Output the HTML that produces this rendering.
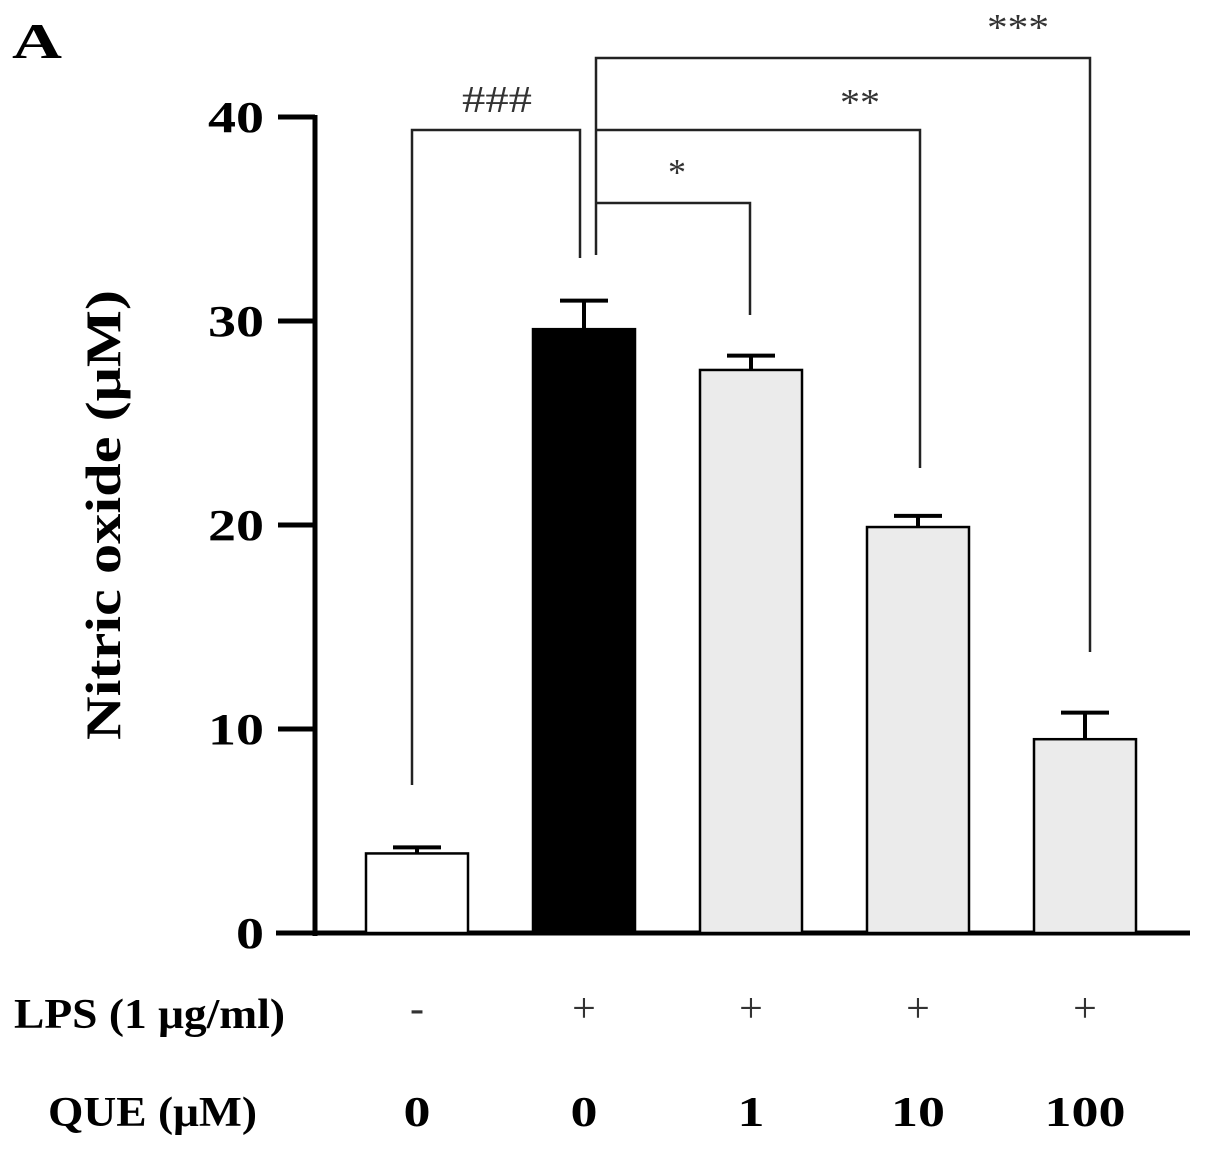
<!DOCTYPE html>
<html><head><meta charset="utf-8"><style>
html,body{margin:0;padding:0;background:#fff;}
svg{display:block;font-family:"Liberation Serif",serif;}
</style></head><body>
<svg id="chart" width="1205" height="1150" viewBox="0 0 1205 1150" xmlns="http://www.w3.org/2000/svg">
<text x="12" y="58" font-size="50" font-weight="bold" textLength="50" lengthAdjust="spacingAndGlyphs">A</text>
<text transform="translate(120,515) rotate(-90)" text-anchor="middle" font-size="50" font-weight="bold" textLength="450" lengthAdjust="spacingAndGlyphs">Nitric oxide (μM)</text>
<g id="plot"></g>
</svg>
<script>
const categories = ["ctrl","LPS","QUE1","QUE10","QUE100"];
const values = [3.9, 29.6, 27.6, 19.9, 9.5];
const errors = [0.3, 1.4, 0.7, 0.55, 1.3];
const fills = ["#ffffff","#000000","#ebebeb","#ebebeb","#ebebeb"];
const yTicks = [0,10,20,30,40];
const lpsLabels = ["-","+","+","+","+"];
const queLabels = ["0","0","1","10","100"];
const sigLabels = ["###","*","**","***"];

const NS="http://www.w3.org/2000/svg";
const g=document.getElementById('plot');
const y0=933, pxPer=20.4;
const yScale=v=>y0-v*pxPer;
const xCenter=i=>417+i*167;
const barW=102;
function mk(tag,attrs,text){const e=document.createElementNS(NS,tag);for(const k in attrs)e.setAttribute(k,attrs[k]);if(text!==undefined)e.textContent=text;g.appendChild(e);return e;}

let e=mk('line',{x1:315,y1:yScale(40)-2,x2:315,y2:y0+3,stroke:'#000','stroke-width':5});


e=mk('line',{x1:276,y1:y0,x2:1190,y2:y0,stroke:'#000','stroke-width':5});


yTicks.forEach(t=>{
  let l=mk('line',{x1:278,y1:yScale(t),x2:315,y2:yScale(t),stroke:'#000','stroke-width':5});
  
  
  const s=String(t);
  let tx=mk('text',{x:264,y:yScale(t)+15,'text-anchor':'end','font-size':44,'font-weight':'bold',textLength:s.length*28,lengthAdjust:'spacingAndGlyphs'},s);
  
  
});
values.forEach((v,i)=>{
  const cx=xCenter(i);
  const top=yScale(v+errors[i]);
  let el=mk('line',{x1:cx,y1:yScale(v),x2:cx,y2:top,stroke:'#000','stroke-width':4});
  
  
  el=mk('line',{x1:cx-24,y1:top,x2:cx+24,y2:top,stroke:'#000','stroke-width':4});
  
  
  el=mk('rect',{x:cx-barW/2,y:yScale(v),width:barW,height:y0-yScale(v),fill:fills[i],stroke:'#000','stroke-width':2.5});
  
  
  el=mk('text',{x:cx,y:1022,'text-anchor':'middle','font-size':42,fill:'#333'},lpsLabels[i]);
  
  
  const q=queLabels[i];
  el=mk('text',{x:cx,y:1126,'text-anchor':'middle','font-size':42,'font-weight':'bold',textLength:q.length*27,lengthAdjust:'spacingAndGlyphs'},q);
  
  
});
e=mk('text',{x:14,y:1028,'font-size':42,'font-weight':'bold',textLength:271,lengthAdjust:'spacingAndGlyphs'},"LPS (1 μg/ml)");


e=mk('text',{x:48,y:1126,'font-size':42,'font-weight':'bold',textLength:209,lengthAdjust:'spacingAndGlyphs'},"QUE (μM)");


const brackets=[
  {pts:[[412,785],[412,130],[580,130],[580,258]],lx:497,ly:112,w:70,t:sigLabels[0]},
  {pts:[[596,203],[750,203],[750,315]],lx:677,ly:185,w:18,t:sigLabels[1]},
  {pts:[[596,130],[920,130],[920,468]],lx:860,ly:115,w:40,t:sigLabels[2]},
  {pts:[[596,255],[596,58],[1090,58],[1090,652]],lx:1018,ly:40,w:62,t:sigLabels[3]}
];
brackets.forEach((b,i)=>{
  let p=mk('polyline',{points:b.pts.map(q=>q.join(',')).join(' '),fill:'none',stroke:'#222','stroke-width':2.5});
  
  
  let t=mk('text',{x:b.lx,y:b.ly,'text-anchor':'middle','font-size':38,fill:'#333',textLength:b.w,lengthAdjust:'spacingAndGlyphs'},b.t);
  
  
});
</script>
</body></html>
